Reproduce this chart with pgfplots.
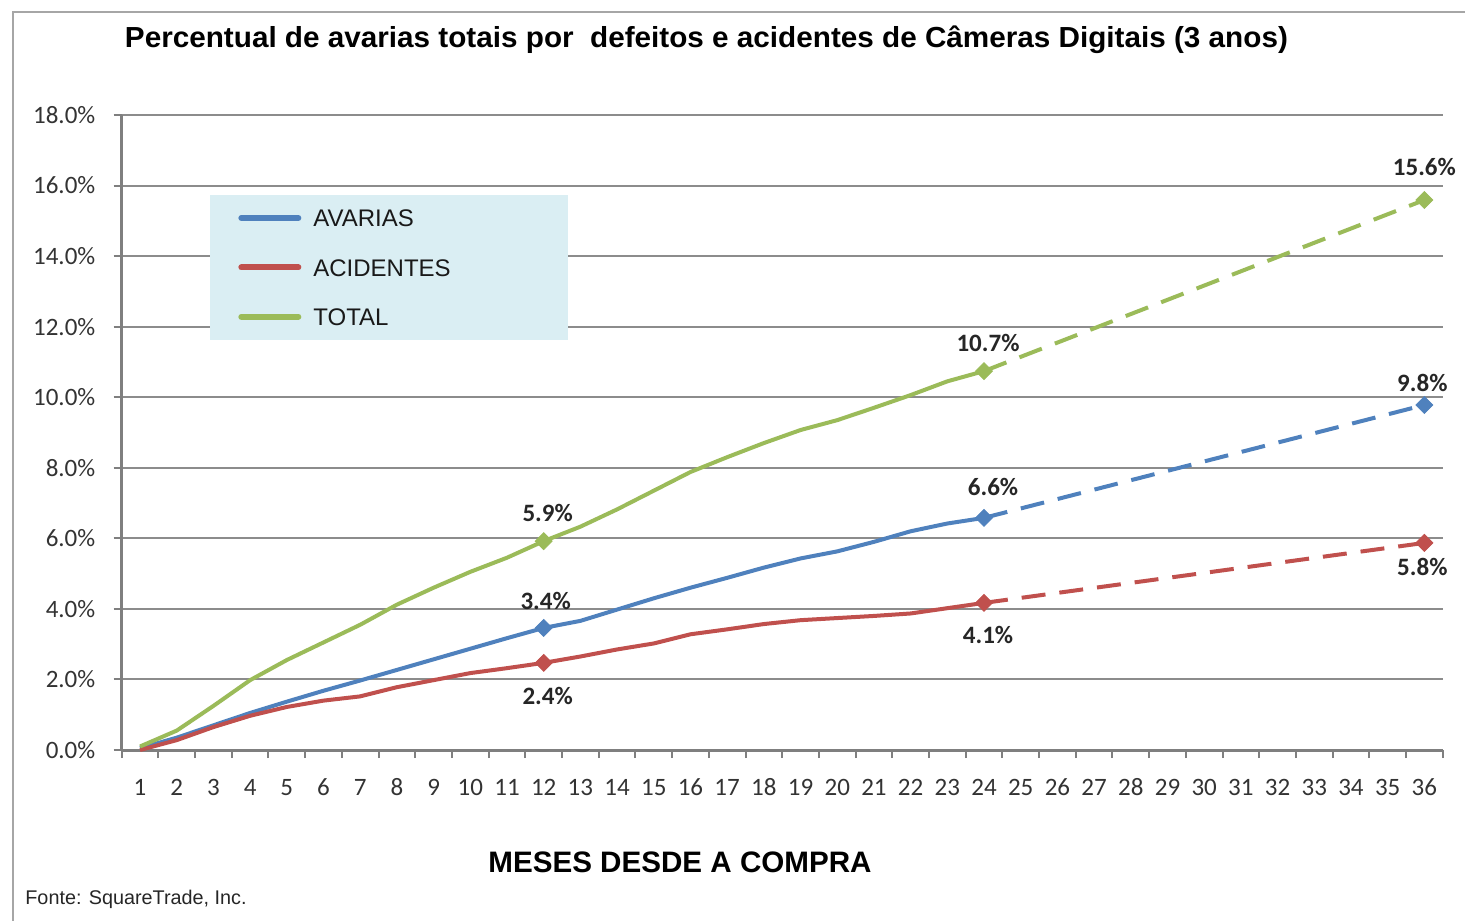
\documentclass[border=0pt]{standalone}
\usepackage{fontspec}
\setmainfont{Liberation Sans}
\newfontfamily\carlito{Carlito}
\usepackage{graphicx}
\usepackage{pgfplots}
\usepackage{pgfplotstable}
\pgfplotsset{compat=1.18}
\definecolor{cblue}{HTML}{4F81BD}
\definecolor{cred}{HTML}{C0504D}
\definecolor{cgreen}{HTML}{9BBB59}
\definecolor{legbg}{HTML}{DAEEF3}
\definecolor{gridc}{HTML}{8C8C8C}
\definecolor{axc}{HTML}{7F7F7F}
\definecolor{framec}{HTML}{A6A6A6}
\definecolor{tickc}{HTML}{333333}
\pgfplotstableread{
m a b t
1 0.05 0.00 0.10
2 0.35 0.28 0.55
3 0.70 0.65 1.25
4 1.05 0.97 1.98
5 1.37 1.22 2.55
6 1.68 1.40 3.05
7 1.97 1.52 3.55
8 2.27 1.78 4.12
9 2.57 1.98 4.60
10 2.87 2.18 5.05
11 3.17 2.32 5.45
12 3.46 2.47 5.92
13 3.66 2.65 6.33
14 3.98 2.85 6.82
15 4.30 3.02 7.35
16 4.60 3.28 7.88
17 4.88 3.42 8.30
18 5.17 3.57 8.70
19 5.43 3.68 9.07
20 5.63 3.74 9.35
21 5.90 3.80 9.70
22 6.20 3.87 10.06
23 6.42 4.02 10.45
24 6.58 4.17 10.74
}\data
\newsavebox\titlebox
\newdimen\tw
\begin{document}
\sbox\titlebox{\bfseries\fontsize{14.5}{16}\selectfont Percentual de avarias totais por~ defeitos e acidentes de Câmeras Digitais (3 anos)}%
\tw=\wd\titlebox
\pgfmathsetmacro\tsx{581.5/\tw}%
\begin{tikzpicture}
\path[use as bounding box] (0,0) rectangle (732.5pt,460.5pt);
\draw[framec, line width=1.25pt] (732.5pt,454.5pt) -- (6.5pt,454.5pt) -- (6.5pt,0pt);
\node[anchor=base, inner sep=0pt] at (353.25pt,436.5pt) {\scalebox{\tsx}[1]{\usebox\titlebox}};
\node[anchor=base, inner sep=0pt, font=\bfseries\fontsize{14.8}{16}\selectfont] at (340pt,24.5pt) {MESES DESDE A COMPRA};
\node[anchor=base west, inner sep=0pt, font=\fontsize{9.9}{11}\selectfont, text=black!85] at (12.5pt,8.5pt) {Fonte: SquareTrade, Inc.};
\begin{axis}[
  at={(60.85pt,85.5pt)}, anchor=south west,
  scale only axis, width=660.5pt, height=317.5pt,
  xmin=0.5, xmax=36.5, ymin=0, ymax=18,
  axis lines=left, axis line style={-, draw=axc, line width=1.5pt},
  ymajorgrids, grid style={draw=gridc, line width=1pt},
  tick align=outside, major tick length=4pt,
  ytick={0,2,...,18},
  yticklabels={0.0\%,2.0\%,4.0\%,6.0\%,8.0\%,10.0\%,12.0\%,14.0\%,16.0\%,18.0\%},
  ytick style={draw=axc, line width=1pt},
  xtick={1,...,36},
  xtick style={draw=none},
  extra x ticks={0.5,1.5,...,36.5},
  extra x tick labels={},
  extra x tick style={xtick style={draw=axc, line width=1pt}},
  /pgf/number format/assume math mode=true,
  ticklabel style={font=\carlito\fontsize{12.5}{14}\selectfont, text=tickc},
  xticklabel style={anchor=base, inner sep=0pt, yshift=-18.5pt},
  yticklabel style={anchor=east, inner sep=0pt, xshift=-9pt},
  legend style={at={(0.0880,0.8526)}, anchor=north west, draw=none, fill=none,
    inner sep=0pt, row sep=15.7pt, column sep=6pt,
    nodes={inner sep=0pt, text height=9pt, text depth=0pt},
    font=\fontsize{12}{14}\selectfont, text=black!90},
  legend cell align=left,
  legend image code/.code={\draw[#1, line width=3pt, line cap=round] (1.5pt,0pt) -- (30pt,0pt);},
  clip=false
]
\addplot[cblue, line width=2pt, line join=round] table[x=m, y=a] {\data};
\addlegendentry{AVARIAS}
\addplot[cred, line width=2pt, line join=round] table[x=m, y=b] {\data};
\addlegendentry{ACIDENTES}
\addplot[cgreen, line width=2pt, line join=round] table[x=m, y=t] {\data};
\addlegendentry{TOTAL}
\addplot[cblue, line width=2pt, dash pattern=on 12pt off 7pt, forget plot] coordinates {(24,6.58) (36,9.78)};
\addplot[cred, line width=2pt, dash pattern=on 12pt off 7pt, forget plot] coordinates {(24,4.17) (36,5.87)};
\addplot[cgreen, line width=2pt, dash pattern=on 12pt off 7pt, forget plot] coordinates {(24,10.74) (36,15.59)};
\pgfplotsset{labstyle/.style={only marks, mark=square*, mark size=3pt, mark options={rotate=45}, forget plot,
  point meta=explicit symbolic, nodes near coords={\pgfplotspointmeta\%},
  visualization depends on={value \thisrow{dy}\as\dy},
  visualization depends on={value \thisrow{dx}\as\dx},
  every node near coord/.append style={anchor=base, inner sep=0pt, yshift=\dy pt, xshift=\dx pt,
    font=\carlito\bfseries\fontsize{12.5}{14}\selectfont, text=black!85}}}
\addplot[cblue, labstyle] table[x=x, y=y, meta=lab] {
x y lab dy dx
12 3.46 3.4 9 1
24 6.58 6.6 11 4.5
36 9.78 9.8 6.5 -1
};
\addplot[cred, labstyle] table[x=x, y=y, meta=lab] {
x y lab dy dx
12 2.47 2.4 -21 2
24 4.17 4.1 -20.5 2
36 5.87 5.8 -16.5 -1
};
\addplot[cgreen, labstyle] table[x=x, y=y, meta=lab] {
x y lab dy dx
12 5.92 5.9 10 2
24 10.74 10.7 10 2
36 15.59 15.6 12.5 0
};
\fill[legbg] (axis description cs:0.0668,0.874) rectangle (axis description cs:0.3379,0.6457);
\end{axis}
\end{tikzpicture}
\end{document}
